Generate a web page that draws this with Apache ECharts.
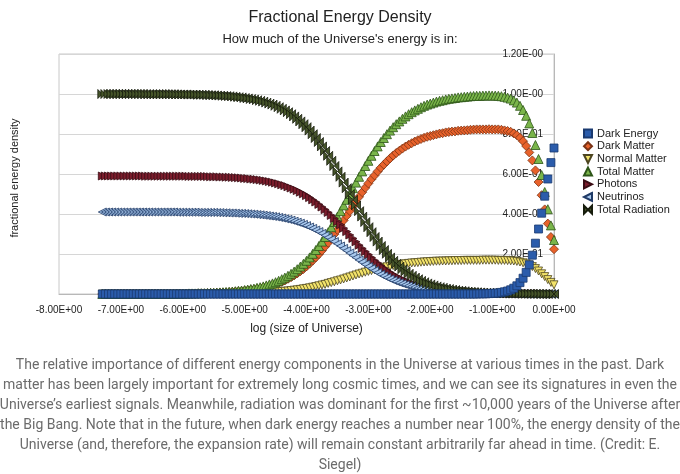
<!DOCTYPE html>
<html><head><meta charset="utf-8">
<script src="https://cdn.jsdelivr.net/npm/echarts@6/dist/echarts.min.js"></script>
<style>html,body{margin:0;padding:0;background:#fff}#c{width:680px;height:474px}</style>
</head><body><div id="c"></div>
<script>
// log10 (size of Universe)
const xs = [
-7.30,-7.25,-7.20,-7.15,-7.10,-7.05,-7.00,-6.95,-6.90,-6.85,
-6.80,-6.75,-6.70,-6.65,-6.60,-6.55,-6.50,-6.45,-6.40,-6.35,
-6.30,-6.25,-6.20,-6.15,-6.10,-6.05,-6.00,-5.95,-5.90,-5.85,
-5.80,-5.75,-5.70,-5.65,-5.60,-5.55,-5.50,-5.45,-5.40,-5.35,
-5.30,-5.25,-5.20,-5.15,-5.10,-5.05,-5.00,-4.95,-4.90,-4.85,
-4.80,-4.75,-4.70,-4.65,-4.60,-4.55,-4.50,-4.45,-4.40,-4.35,
-4.30,-4.25,-4.20,-4.15,-4.10,-4.05,-4.00,-3.95,-3.90,-3.85,
-3.80,-3.75,-3.70,-3.65,-3.60,-3.55,-3.50,-3.45,-3.40,-3.35,
-3.30,-3.25,-3.20,-3.15,-3.10,-3.05,-3.00,-2.95,-2.90,-2.85,
-2.80,-2.75,-2.70,-2.65,-2.60,-2.55,-2.50,-2.45,-2.40,-2.35,
-2.30,-2.25,-2.20,-2.15,-2.10,-2.05,-2.00,-1.95,-1.90,-1.85,
-1.80,-1.75,-1.70,-1.65,-1.60,-1.55,-1.50,-1.45,-1.40,-1.35,
-1.30,-1.25,-1.20,-1.15,-1.10,-1.05,-1.00,-0.95,-0.90,-0.85,
-0.80,-0.75,-0.70,-0.65,-0.60,-0.55,-0.50,-0.45,-0.40,-0.35,
-0.30,-0.25,-0.20,-0.15,-0.10,-0.05,0.00];

const darkEnergy = [
0,0,0,0,0,0,0,0,0,0,
0,0,0,0,0,0,0,0,0,0,
0,0,0,0,0,0,0,0,0,0,
0,0,0,0,0,0,0,0,0,0,
0,0,0,0,0,0,0,0,0,0,
0,0,0,0,0,0,0,0,0,0,
0,0,0,0,0,0,0,0,0,0,
0,0,0,0,0,0,0,0,0,0,
0,0,0,0,0,0,0,0,0,0,
0,0,0,0,0,0,0,0,0,0,
0,0,0,0,0,0,0,0,0,0,
0,0,0,0,0,0,0,0,0,0,
0,0,0.001,0.001,0.001,0.002,0.003,0.004,0.005,0.008,
0.011,0.015,0.021,0.029,0.041,0.057,0.079,0.108,0.146,0.194,
0.254,0.325,0.404,0.489,0.575,0.657,0.730];

const darkMatter = [
0,0,0,0,0,0,0,0,0,0,
0,0,0,0,0.001,0.001,0.001,0.001,0.001,0.001,
0.001,0.001,0.001,0.001,0.002,0.002,0.002,0.002,0.002,0.002,
0.002,0.003,0.003,0.003,0.004,0.005,0.005,0.006,0.007,0.007,
0.008,0.009,0.010,0.012,0.013,0.014,0.017,0.018,0.021,0.022,
0.026,0.028,0.032,0.036,0.040,0.044,0.049,0.055,0.061,0.068,
0.076,0.084,0.093,0.103,0.114,0.125,0.138,0.152,0.167,0.183,
0.199,0.217,0.237,0.256,0.277,0.299,0.321,0.344,0.368,0.391,
0.415,0.439,0.462,0.486,0.509,0.531,0.553,0.574,0.593,0.613,
0.631,0.647,0.663,0.678,0.692,0.705,0.716,0.727,0.737,0.746,
0.754,0.762,0.769,0.775,0.781,0.786,0.790,0.794,0.798,0.802,
0.804,0.808,0.810,0.812,0.813,0.816,0.817,0.818,0.819,0.821,
0.822,0.823,0.823,0.823,0.823,0.824,0.823,0.823,0.823,0.821,
0.818,0.815,0.811,0.803,0.794,0.781,0.764,0.740,0.708,0.668,
0.618,0.560,0.494,0.423,0.352,0.285,0.224];

const normalMatter = [
0,0,0,0,0,0,0,0,0,0,
0,0,0,0,0,0,0,0,0,0,
0,0,0,0,0,0,0,0,0.001,0.001,
0.001,0.001,0.001,0.001,0.001,0.001,0.001,0.001,0.001,0.002,
0.002,0.002,0.002,0.002,0.003,0.003,0.003,0.004,0.004,0.005,
0.005,0.006,0.006,0.007,0.008,0.009,0.010,0.011,0.013,0.014,
0.015,0.017,0.019,0.021,0.023,0.026,0.028,0.031,0.034,0.037,
0.041,0.045,0.048,0.053,0.057,0.061,0.066,0.070,0.075,0.080,
0.085,0.090,0.095,0.100,0.104,0.109,0.113,0.117,0.122,0.125,
0.129,0.133,0.136,0.139,0.142,0.144,0.147,0.149,0.151,0.153,
0.155,0.156,0.157,0.159,0.160,0.161,0.162,0.163,0.164,0.164,
0.165,0.165,0.166,0.166,0.167,0.167,0.167,0.168,0.168,0.168,
0.168,0.168,0.168,0.169,0.169,0.169,0.169,0.169,0.168,0.168,
0.168,0.167,0.166,0.165,0.163,0.160,0.156,0.151,0.145,0.137,
0.127,0.115,0.101,0.087,0.072,0.058,0.046];

const totalMatter = [
0,0,0,0,0,0,0,0,0,0,
0,0,0,0,0.001,0.001,0.001,0.001,0.001,0.001,
0.001,0.001,0.001,0.001,0.002,0.002,0.002,0.002,0.003,0.003,
0.003,0.004,0.004,0.004,0.005,0.006,0.006,0.007,0.008,0.009,
0.010,0.011,0.012,0.014,0.016,0.017,0.020,0.022,0.025,0.027,
0.031,0.034,0.038,0.043,0.048,0.053,0.059,0.066,0.074,0.082,
0.091,0.101,0.112,0.124,0.137,0.151,0.166,0.183,0.201,0.220,
0.240,0.262,0.285,0.309,0.334,0.360,0.387,0.414,0.443,0.471,
0.500,0.529,0.557,0.586,0.613,0.640,0.666,0.691,0.715,0.738,
0.760,0.780,0.799,0.817,0.834,0.849,0.863,0.876,0.888,0.899,
0.909,0.918,0.926,0.934,0.941,0.947,0.952,0.957,0.962,0.966,
0.969,0.973,0.976,0.978,0.980,0.983,0.984,0.986,0.987,0.989,
0.990,0.991,0.991,0.992,0.992,0.993,0.992,0.992,0.991,0.989,
0.986,0.982,0.977,0.968,0.957,0.941,0.920,0.891,0.853,0.805,
0.745,0.675,0.595,0.510,0.424,0.343,0.270];

const photons = [
0.590,0.590,0.590,0.590,0.590,0.590,0.590,0.590,0.590,0.590,
0.590,0.590,0.590,0.590,0.589,0.589,0.589,0.589,0.589,0.589,
0.589,0.589,0.589,0.589,0.589,0.589,0.589,0.589,0.588,0.588,
0.588,0.588,0.588,0.588,0.587,0.586,0.586,0.586,0.585,0.585,
0.584,0.584,0.583,0.582,0.581,0.580,0.578,0.577,0.575,0.574,
0.572,0.570,0.568,0.565,0.562,0.559,0.555,0.551,0.546,0.542,
0.536,0.530,0.524,0.517,0.509,0.501,0.492,0.482,0.471,0.460,
0.448,0.435,0.422,0.408,0.393,0.378,0.362,0.346,0.329,0.312,
0.295,0.278,0.261,0.244,0.228,0.212,0.197,0.182,0.168,0.155,
0.142,0.130,0.119,0.108,0.098,0.089,0.081,0.073,0.066,0.060,
0.054,0.048,0.044,0.039,0.035,0.031,0.028,0.025,0.022,0.020,
0.018,0.016,0.015,0.013,0.012,0.010,0.009,0.008,0.007,0.006,
0.006,0.005,0.005,0.004,0.004,0.004,0.003,0.002,0.002,0.002,
0.002,0.002,0.001,0.001,0.001,0.001,0.001,0.001,0.001,0.001,
0.001,0.001,0,0,0,0,0];

const neutrinos = [
0.410,0.410,0.410,0.410,0.410,0.410,0.410,0.410,0.410,0.410,
0.410,0.410,0.410,0.410,0.410,0.410,0.410,0.410,0.410,0.410,
0.410,0.410,0.410,0.410,0.409,0.409,0.409,0.409,0.409,0.409,
0.409,0.408,0.408,0.408,0.408,0.408,0.408,0.407,0.407,0.406,
0.406,0.405,0.405,0.404,0.403,0.403,0.402,0.401,0.400,0.399,
0.397,0.396,0.394,0.392,0.390,0.388,0.386,0.383,0.380,0.376,
0.373,0.369,0.364,0.359,0.354,0.348,0.342,0.335,0.328,0.320,
0.312,0.303,0.293,0.283,0.273,0.262,0.251,0.240,0.228,0.217,
0.205,0.193,0.182,0.170,0.159,0.148,0.137,0.127,0.117,0.107,
0.098,0.090,0.082,0.075,0.068,0.062,0.056,0.051,0.046,0.041,
0.037,0.034,0.030,0.027,0.024,0.022,0.020,0.018,0.016,0.014,
0.013,0.011,0.010,0.009,0.008,0.007,0.007,0.006,0.005,0.005,
0.004,0.004,0.003,0.003,0.002,0.002,0.002,0.002,0.002,0.002,
0.001,0.001,0.001,0.001,0.001,0.001,0,0,0,0,
0,0,0,0,0,0,0];

const totalRadiation = [
1,1,1,1,1,1,1,1,1,1,
1,1,1,1,0.999,0.999,0.999,0.999,0.999,0.999,
0.999,0.999,0.999,0.999,0.998,0.998,0.998,0.998,0.997,0.997,
0.997,0.996,0.996,0.996,0.995,0.994,0.994,0.993,0.992,0.991,
0.990,0.989,0.988,0.986,0.984,0.983,0.980,0.978,0.975,0.973,
0.969,0.966,0.962,0.957,0.952,0.947,0.941,0.934,0.926,0.918,
0.909,0.899,0.888,0.876,0.863,0.849,0.834,0.817,0.799,0.780,
0.760,0.738,0.715,0.691,0.666,0.640,0.613,0.586,0.557,0.529,
0.500,0.471,0.443,0.414,0.387,0.360,0.334,0.309,0.285,0.262,
0.240,0.220,0.201,0.183,0.166,0.151,0.137,0.124,0.112,0.101,
0.091,0.082,0.074,0.066,0.059,0.053,0.048,0.043,0.038,0.034,
0.031,0.027,0.025,0.022,0.020,0.017,0.016,0.014,0.012,0.011,
0.010,0.009,0.008,0.007,0.006,0.006,0.005,0.004,0.004,0.004,
0.003,0.003,0.002,0.002,0.002,0.002,0.001,0.001,0.001,0.001,
0.001,0.001,0,0,0,0,0];

const seriesNames = ['Dark Energy','Dark Matter','Normal Matter','Total Matter','Photons','Neutrinos','Total Radiation'];
const xTickLabels = ['-8.00E+00','-7.00E+00','-6.00E+00','-5.00E+00','-4.00E+00','-3.00E+00','-2.00E+00','-1.00E+00','0.00E+00'];
const yTickLabels = ['','2.00E-01','4.00E-01','6.00E-01','8.00E-01','1.00E-00','1.20E-00'];
const captionLines = [
'The relative importance of different energy components in the Universe at various times in the past. Dark',
'matter has been largely important for extremely long cosmic times, and we can see its signatures in even the',
'Universe\u2019s earliest signals. Meanwhile, radiation was dominant for the first ~10,000 years of the Universe after',
'the Big Bang. Note that in the future, when dark energy reaches a number near 100%, the energy density of the',
'Universe (and, therefore, the expansion rate) will remain constant arbitrarily far ahead in time. (Credit: E.',
'Siegel)'];

const FONT = '"Liberation Sans", Arial, sans-serif';
const BOWTIE = 'path://M0,0L5,5L0,10ZM10,0L5,5L10,10Z';

function mk(name, vals, symbol, size, fill, border, z) {
  return {
    name: name, type: 'scatter', symbol: symbol, symbolSize: size, z: z,
    data: xs.map((x, i) => [x, vals[i]]),
    itemStyle: { color: fill, borderColor: border, borderWidth: 0.8, opacity: 1 },
    emphasis: { disabled: true }, silent: true
  };
}

const chart = echarts.init(document.getElementById('c'), null, { renderer: 'canvas' });
chart.setOption({
  animation: false,
  backgroundColor: '#ffffff',
  textStyle: { fontFamily: FONT },
  title: {
    text: 'Fractional Energy Density',
    subtext: 'How much of the Universe\'s energy is in:',
    left: 'center', top: 5, itemGap: 7,
    textStyle: { fontFamily: FONT, fontSize: 16, fontWeight: 'normal', color: '#222' },
    subtextStyle: { fontFamily: FONT, fontSize: 13, color: '#222' }
  },
  grid: { left: 59, right: 126, top: 54, bottom: 180, containLabel: false, outerBoundsMode: 'none',
          show: true, borderColor: '#c8c8c8', borderWidth: 1, backgroundColor: 'transparent' },
  legend: {
    orient: 'vertical', left: 578, top: 123, itemWidth: 8, itemHeight: 8, itemGap: 1.7,
    data: seriesNames,
    textStyle: { fontFamily: FONT, fontSize: 11, color: '#222' },
    selectedMode: false
  },
  xAxis: {
    type: 'value', min: -8, max: 0, interval: 1,
    name: 'log (size of Universe)', nameLocation: 'middle', nameGap: 29,
    nameTextStyle: { fontFamily: FONT, fontSize: 12, color: '#222' },
    axisLine: { show: true, lineStyle: { color: '#b8b8b8' } },
    axisTick: { show: false },
    splitLine: { show: false },
    axisLabel: { margin: 11, fontSize: 10, color: '#222', fontFamily: FONT,
      formatter: v => xTickLabels[Math.round(v + 8)] }
  },
  yAxis: {
    type: 'value', min: 0, max: 1.2, interval: 0.2, position: 'right',
    axisLine: { show: true, lineStyle: { color: '#b8b8b8' } },
    axisTick: { show: false },
    splitLine: { show: true, lineStyle: { color: '#d6d6d6', width: 1 } },
    axisLabel: { inside: true, margin: 11, fontSize: 10, color: '#222', fontFamily: FONT,
      formatter: v => yTickLabels[Math.round(v / 0.2)] }
  },
  graphic: [
    { type: 'text', x: 15, y: 178, rotation: Math.PI / 2,
      style: { text: 'fractional energy density', fontFamily: FONT, fontSize: 11, fill: '#222',
               textAlign: 'center', textVerticalAlign: 'middle' } },
    { type: 'text', x: 340, y: 355,
      style: { text: captionLines.join('\n'), fontFamily: 'Roboto, sans-serif', fontSize: 14,
               lineHeight: 20, fill: '#6b6b6b', textAlign: 'center', textVerticalAlign: 'top' } }
  ],
  series: [
    mk(seriesNames[0], darkEnergy, 'rect', 8, '#2b5cab', '#1a3a70', 9),
    mk(seriesNames[1], darkMatter, 'diamond', 9, '#e8622b', '#7a3315', 2),
    mk(seriesNames[2], normalMatter, 'path://M0,0L10,0L5,10Z', 8, '#f3e36a', '#4d4520', 3),
    mk(seriesNames[3], totalMatter, 'triangle', 9, '#7ab54a', '#2d5518', 4),
    mk(seriesNames[4], photons, 'path://M0,0L10,5L0,10Z', 8, '#7b1d2c', '#3a0d14', 5),
    mk(seriesNames[5], neutrinos, 'path://M10,0L0,5L10,10Z', 8, '#a9c9ee', '#1f3a66', 6),
    mk(seriesNames[6], totalRadiation, BOWTIE, 9, '#46552a', '#161c0c', 7)
  ]
});
</script>
</body></html>
